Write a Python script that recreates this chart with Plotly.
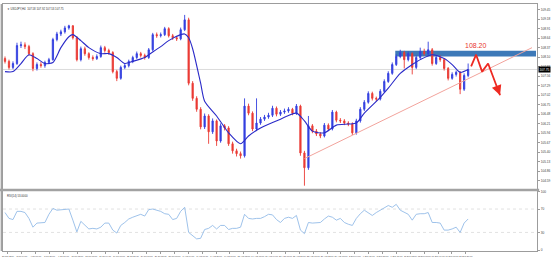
import plotly.graph_objects as go

# ---------------- data ----------------
bars = list(range(117))

opens = [108.06,107.98,107.81,107.92,108.43,108.45,108.40,108.20,107.78,107.89,
         107.86,107.95,108.03,108.60,108.76,108.82,108.93,108.99,108.65,108.03,
         108.34,108.20,108.09,108.06,108.12,108.37,108.29,108.23,107.69,107.50,
         107.81,107.86,107.98,108.09,108.20,108.15,108.09,108.31,108.74,108.71,
         108.74,108.91,108.71,108.65,108.62,108.88,109.16,107.36,106.93,106.62,
         106.12,106.43,105.98,106.29,105.72,106.15,106.09,105.64,105.44,105.36,
         105.30,106.71,106.51,106.06,106.23,106.34,106.40,106.45,106.65,106.48,
         106.54,106.57,106.62,106.51,106.71,105.38,104.96,106.15,106.00,105.92,
         105.86,106.17,106.06,106.54,106.31,106.29,106.23,106.20,105.95,106.29,
         106.62,106.82,107.07,106.93,106.91,107.13,107.41,107.64,107.89,108.12,
         108.23,108.03,108.20,107.81,108.09,108.26,108.20,108.31,107.92,108.09,
         108.03,107.78,107.50,107.61,107.67,107.19,107.58]

highs = [108.12,108.03,107.98,108.51,108.54,108.52,108.45,108.24,107.95,107.96,
         108.00,108.08,108.65,108.82,108.88,108.99,109.02,109.01,108.70,108.40,
         108.40,108.24,108.15,108.18,108.43,108.42,108.34,108.27,107.74,107.86,
         107.92,108.03,108.14,108.26,108.25,108.20,108.36,108.79,108.80,108.80,
         108.96,108.95,108.76,108.70,108.94,109.30,109.22,107.42,106.99,106.68,
         106.50,106.48,106.36,106.33,106.22,106.20,106.14,105.70,105.50,105.42,
         106.93,106.78,106.56,106.93,106.40,106.46,106.52,106.72,106.70,106.60,
         106.64,106.68,106.66,106.77,106.75,105.44,106.43,106.20,106.06,105.97,
         106.23,106.22,106.60,106.58,106.37,106.34,106.28,106.25,106.35,106.68,
         106.88,107.13,107.12,106.98,107.19,107.47,107.70,107.95,108.18,108.31,
         108.28,108.26,108.24,108.15,108.37,108.34,108.54,108.36,108.14,108.15,
         108.06,107.82,107.67,107.72,107.70,107.64,107.92]

lows = [107.92,107.75,107.76,107.88,108.36,108.33,108.14,107.70,107.72,107.80,
        107.80,107.90,108.00,108.55,108.70,108.77,108.88,108.60,107.98,107.98,
        108.14,108.03,108.00,108.02,108.08,108.23,108.17,107.64,107.42,107.46,
        107.76,107.81,107.93,108.05,108.09,108.03,108.05,108.27,108.65,108.66,
        108.70,108.66,108.59,108.56,108.58,108.84,107.30,106.86,106.55,106.05,
        106.06,105.64,105.92,105.58,105.67,106.02,105.58,105.36,105.28,105.22,
        105.25,106.45,106.00,106.00,106.18,106.29,106.35,106.40,106.42,106.43,
        106.49,106.52,106.45,106.46,105.30,104.45,104.90,105.94,105.86,105.80,
        105.82,106.00,106.02,106.25,106.23,106.17,106.14,105.89,105.90,106.24,
        106.57,106.78,106.87,106.85,106.87,107.09,107.37,107.60,107.85,108.07,
        107.78,107.98,107.61,107.76,108.05,108.14,108.15,107.86,107.88,107.97,
        107.72,107.44,107.46,107.55,107.05,107.14,107.53]

closes = [107.98,107.81,107.92,108.43,108.45,108.40,108.20,107.78,107.89,107.86,
          107.95,108.03,108.60,108.76,108.82,108.93,108.99,108.65,108.03,108.34,
          108.20,108.09,108.06,108.12,108.37,108.29,108.23,107.69,107.50,107.81,
          107.86,107.98,108.09,108.20,108.15,108.09,108.31,108.74,108.71,108.74,
          108.91,108.71,108.65,108.62,108.88,109.16,107.36,106.93,106.62,106.12,
          106.43,105.98,106.29,105.72,106.15,106.09,105.64,105.44,105.36,105.30,
          106.71,106.51,106.06,106.23,106.34,106.40,106.45,106.65,106.48,106.54,
          106.57,106.62,106.51,106.71,105.38,104.96,106.15,106.00,105.92,105.86,
          106.17,106.06,106.54,106.31,106.29,106.23,106.20,105.95,106.29,106.62,
          106.82,107.07,106.93,106.91,107.13,107.41,107.64,107.89,108.12,108.23,
          108.03,108.20,107.81,108.09,108.26,108.20,108.31,107.92,108.09,108.03,
          107.78,107.50,107.61,107.67,107.19,107.58,107.75]

ma_idx = [0,2,4,6,8,10,12,14,16,17,19,21,24,26,28,30,32,35,36,39,41,44,45,46,47,
          49,50,53,56,59,61,64,69,73,75,77,80,83,86,88,90,94,96,99,102,104,107,
          110,112,114,116]
ma_price = [107.69,107.69,107.92,108.17,108.06,107.92,107.95,108.37,108.68,108.74,
            108.57,108.37,108.20,108.20,108.09,107.92,107.98,108.09,108.17,108.40,
            108.57,108.74,108.76,108.65,108.34,107.36,106.85,106.43,105.95,105.64,
            105.86,106.09,106.34,106.51,106.29,106.00,105.95,106.17,106.20,106.23,
            106.51,106.96,107.22,107.64,107.89,108.03,108.17,108.06,107.89,107.67,
            107.75]

rsi = [64,54,52,66,66,64,54,39,46,46,
       47,61,71,68,69,69,70,51,31,49,
       42,36,37,36,39,46,46,34,29,42,
       47,53,56,59,61,58,69,70,68,66,
       62,61,52,54,66,73,30,24,19,20,
       35,37,42,36,42,42,35,37,37,39,
       61,54,53,54,54,57,61,60,52,47,
       54,56,54,59,34,28,47,46,46,47,
       53,58,56,51,54,47,44,42,54,62,
       68,64,59,64,68,71,76,73,78,68,
       64,61,51,61,62,62,64,47,47,46,
       34,34,36,39,30,46,53]

rsi_levels = [30, 70]
rsi_ticks = [0, 30, 70, 100]

price_ticks = [104.59,104.86,105.13,105.40,105.67,105.94,106.21,106.48,106.75,107.02,
               107.29,107.56,107.83,108.10,108.37,108.64,108.91,109.18,109.45]

date_labels = ["28 Jun 2019","2 Jul 04:00","4 Jul 00:00","5 Jul 20:00","9 Jul 16:00",
               "11 Jul 12:00","15 Jul 08:00","17 Jul 04:00","19 Jul 00:00","22 Jul 20:00",
               "24 Jul 16:00","26 Jul 12:00","30 Jul 08:00","1 Aug 04:00","5 Aug 00:00",
               "6 Aug 20:00","8 Aug 16:00","12 Aug 12:00","14 Aug 08:00","16 Aug 04:00",
               "20 Aug 00:00","21 Aug 20:00","23 Aug 16:00","27 Aug 12:00","29 Aug 08:00",
               "2 Sep 04:00","4 Sep 00:00","5 Sep 20:00","9 Sep 16:00","11 Sep 12:00",
               "13 Sep 08:00","17 Sep 04:00","19 Sep 00:00","20 Sep 20:00"]

# drawings on the chart
trend_idx = [75, 132]
trend_price = [105.22, 108.37]
band_idx = [97.75, 133]
band_price = [108.12, 108.28]
forecast_idx = [116.75, 118, 119.5, 121, 124]
forecast_price = [107.84, 108.17, 107.69, 107.92, 107.02]
target_label = "108.20"

# ---------------- styling ----------------
BLUE = "#3340e0"
RED = "#ea3b34"
MA_COLOR = "#2a2ac8"
RSI_COLOR = "#93bbe8"
AXIS = "#9c9c9c"
TXT = "#444444"

fig = go.Figure()

fig.add_trace(go.Candlestick(
    x=bars, open=opens, high=highs, low=lows, close=closes,
    increasing=dict(line=dict(color=BLUE, width=0.9), fillcolor=BLUE),
    decreasing=dict(line=dict(color=RED, width=0.9), fillcolor=RED),
    xaxis="x", yaxis="y", showlegend=False))

fig.add_trace(go.Scatter(
    x=ma_idx, y=ma_price, mode="lines",
    line=dict(color=MA_COLOR, width=1.1, shape="spline", smoothing=0.7),
    xaxis="x", yaxis="y", showlegend=False, hoverinfo="skip"))

fig.add_trace(go.Scatter(
    x=trend_idx, y=trend_price, mode="lines",
    line=dict(color="#f2a39c", width=1),
    xaxis="x", yaxis="y", showlegend=False, hoverinfo="skip"))

fig.add_trace(go.Scatter(
    x=forecast_idx, y=forecast_price, mode="lines",
    line=dict(color="#ee2a22", width=1.8),
    xaxis="x", yaxis="y", showlegend=False, hoverinfo="skip"))

fig.add_trace(go.Scatter(
    x=bars, y=rsi, mode="lines",
    line=dict(color=RSI_COLOR, width=0.9),
    xaxis="x2", yaxis="y2", showlegend=False, hoverinfo="skip"))

# arrow head at the end of the forecast path
x_end, y_end = forecast_idx[-1], forecast_price[-1]
x_prev, y_prev = forecast_idx[-2], forecast_price[-2]
fig.add_annotation(
    x=x_end, y=y_end, xref="x", yref="y",
    ax=x_end - 0.2 * (x_end - x_prev), ay=y_end - 0.2 * (y_end - y_prev),
    axref="x", ayref="y", text="", showarrow=True,
    arrowhead=2, arrowsize=1.1, arrowwidth=1.8, arrowcolor="#ee2a22")

fig.add_annotation(
    x=forecast_idx[1], y=forecast_price[1], xref="x", yref="y",
    text=target_label, showarrow=False, yshift=9,
    font=dict(family="Liberation Sans", size=7, color="#e8352e"))

# current price label
fig.add_annotation(
    x=1, y=closes[-1], xref="paper", yref="y", xanchor="left",
    text=f"{closes[-1]:.2f}", showarrow=False, xshift=1,
    bgcolor="#000000", borderpad=0.5,
    font=dict(family="Liberation Sans", size=3.2, color="#ffffff"))

# titles
fig.add_annotation(
    x=0, y=1, xref="paper", yref="paper", xanchor="left", yanchor="top",
    xshift=2, yshift=-1, showarrow=False,
    text=f"▼ USDJPY,H4  {opens[-1]:.2f} {highs[-1]:.2f} {lows[-1]:.2f} {closes[-1]:.2f}",
    font=dict(family="Liberation Sans", size=2.8, color="#333333"))
fig.add_annotation(
    x=0, y=0.241, xref="paper", yref="paper", xanchor="left", yanchor="top",
    xshift=2, yshift=-1, showarrow=False,
    text=f"RSI(14) {rsi[-1]:.4f}",
    font=dict(family="Liberation Sans", size=2.8, color="#333333"))

shapes = []
shapes.append(dict(type="rect", xref="x", yref="y",
                   x0=band_idx[0], x1=band_idx[1], y0=band_price[0], y1=band_price[1],
                   fillcolor="#3d79b8", line=dict(width=0), layer="below"))
shapes.append(dict(type="line", xref="paper", yref="y", x0=0, x1=1,
                   y0=closes[-1], y1=closes[-1],
                   line=dict(color="#d2d2d2", width=0.8), layer="below"))
for lv in rsi_levels:
    shapes.append(dict(type="line", xref="paper", yref="y2", x0=0, x1=1, y0=lv, y1=lv,
                       line=dict(color="#d6d6d6", width=0.7, dash="dot"), layer="below"))
shapes.append(dict(type="line", xref="paper", yref="paper", x0=-0.006, x1=1.004,
                   y0=0.247, y1=0.247, line=dict(color="#a2a2a2", width=2.5)))
shapes.append(dict(type="line", xref="paper", yref="paper", x0=-0.003, x1=-0.003,
                   y0=0, y1=1, line=dict(color="#a2a2a2", width=1.5)))
fig.update_layout(shapes=shapes)

tick_pos = [0.75 + 3.475 * k for k in range(len(date_labels))]

fig.update_layout(
    width=553, height=259,
    margin=dict(l=3, r=15, t=2, b=8),
    paper_bgcolor="white", plot_bgcolor="white",
    showlegend=False, boxgap=0.55,
    xaxis=dict(domain=[0, 1], anchor="y", range=[-0.5, 133.25],
               showticklabels=False, showgrid=False, zeroline=False,
               showline=True, mirror=True, linecolor=AXIS, linewidth=1,
               rangeslider=dict(visible=False), ticks=""),
    yaxis=dict(domain=[0.253, 1], anchor="x", range=[104.37, 109.61], side="right",
               tickvals=price_ticks, ticktext=[f"{v:.2f}" for v in price_ticks],
               tickfont=dict(family="Liberation Sans", size=3.2, color=TXT),
               ticks="outside", ticklen=2, tickcolor=AXIS,
               showgrid=False, zeroline=False,
               showline=True, mirror=True, linecolor=AXIS, linewidth=1),
    xaxis2=dict(domain=[0, 1], anchor="y2", range=[-0.5, 133.25], matches="x",
                tickvals=tick_pos, ticktext=date_labels, tickangle=0,
                tickfont=dict(family="Liberation Sans", size=2.2, color=TXT),
                ticks="outside", ticklen=2, tickcolor=AXIS,
                showgrid=False, zeroline=False,
                showline=True, mirror=True, linecolor=AXIS, linewidth=1),
    yaxis2=dict(domain=[0, 0.241], anchor="x2", range=[-1.7, 100], side="right",
                tickvals=rsi_ticks, ticktext=[str(v) for v in rsi_ticks],
                tickfont=dict(family="Liberation Sans", size=3.2, color=TXT),
                ticks="outside", ticklen=2, tickcolor=AXIS,
                showgrid=False, zeroline=False,
                showline=True, mirror=True, linecolor=AXIS, linewidth=1),
)

fig.write_html("out.html")
